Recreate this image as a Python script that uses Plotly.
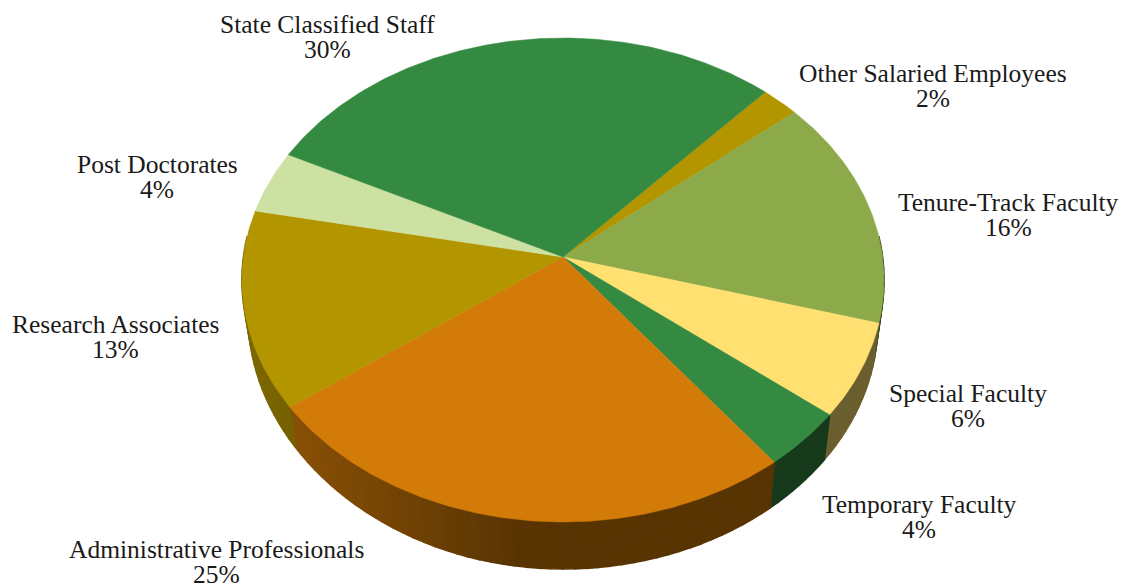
import numpy as np
import plotly.graph_objects as go

# Data: clockwise from the start angle, estimated shares in percent
categories = ["Other Salaried Employees", "Tenure-Track Faculty", "Special Faculty",
              "Temporary Faculty", "Administrative Professionals", "Research Associates",
              "Post Doctorates", "State Classified Staff"]
shares = [2.1, 15.4, 6.3, 3.9, 25.4, 13.2, 4.2, 29.5]
labels_pct = ["2%", "16%", "6%", "4%", "25%", "13%", "4%", "30%"]
colors = ["#B39500", "#8DAA4A", "#FFE070", "#348A41", "#D27B08", "#B39500", "#CDE2A2", "#348A41"]

# Label centres in page pixels
label_x = [933, 1008, 968, 919, 216, 115, 157, 327]
label_y = [86, 215, 406, 517, 562, 337, 177, 37]
LINE_GAP = 12.8

# Projection of the disc
START = 42.6
CX, CY, R, S, K = 563.0, 257.0, 319.6, 239.8, 0.095
W, H = 1126, 585


def project(deg):
    a = np.radians(deg)
    u, v = np.sin(a), -np.cos(a)
    d = 1 - K * v
    return R * u / d, S * v / d


def top_pts(deg):
    dx, dy = project(deg)
    return CX + dx, CY + dy


def bottom_pts(deg):
    dx, dy = project(deg)
    c = np.where(dx < 0, 7 / 274**2, 2 / 267**2)
    return CX + 0.98 * dx, CY + dy + 47 - c * dx**2


def shade(hex_color, x):
    f = float(np.clip(0.42 + (520 - x) / 270 * 0.28, 0.42, 0.72))
    r, g, b = (int(hex_color[i:i + 2], 16) for i in (1, 3, 5))
    return f"rgb({r * f:.0f},{g * f:.0f},{b * f:.0f})"


fig = go.Figure()
angles = START + np.concatenate([[0], np.cumsum(shares)]) * 360 / sum(shares)

# Side wall, in shaded strips along the visible front half
for i, col in enumerate(colors):
    a0, a1 = max(angles[i], 85.0), min(angles[i + 1], 275.0)
    if a1 <= a0:
        continue
    n = max(1, int(np.ceil((a1 - a0) / 2)))
    edges = np.linspace(a0, a1, n + 1)
    for e0, e1 in zip(edges[:-1], edges[1:]):
        t = np.linspace(e0, e1, 5)
        tx, ty = top_pts(t)
        bx, by = bottom_pts(t)
        xs = np.concatenate([tx, bx[::-1], tx[:1]])
        ys = np.concatenate([ty, by[::-1], ty[:1]])
        c = shade(col, float(np.mean(bx)))
        fig.add_trace(go.Scatter(x=xs, y=ys, mode="lines", fill="toself", fillcolor=c,
                                 line=dict(color=c, width=1.6), hoverinfo="skip", showlegend=False))

# Top face
for i, (name, col) in enumerate(zip(categories, colors)):
    t = np.linspace(angles[i], angles[i + 1], max(3, int((angles[i + 1] - angles[i]) * 1.5)))
    rx, ry = top_pts(t)
    fig.add_trace(go.Scatter(x=np.concatenate([[CX], rx, [CX]]), y=np.concatenate([[CY], ry, [CY]]),
                             mode="lines", fill="toself", fillcolor=col,
                             line=dict(color=col, width=0.5), name=name, hoverinfo="name",
                             showlegend=False))

font = dict(family="Liberation Serif", size=25.5, color="#1a1a1a")
for name, pct, x, y in zip(categories, labels_pct, label_x, label_y):
    fig.add_annotation(x=x, y=y - LINE_GAP, text=name, showarrow=False, xanchor="center",
                       yanchor="middle", font=font)
    fig.add_annotation(x=x, y=y + LINE_GAP, text=pct, showarrow=False, xanchor="center",
                       yanchor="middle", font=font)

fig.update_layout(width=W, height=H, margin=dict(l=0, r=0, t=0, b=0),
                  paper_bgcolor="white", plot_bgcolor="white", showlegend=False,
                  xaxis=dict(range=[0, W], visible=False, fixedrange=True),
                  yaxis=dict(range=[H, 0], visible=False, fixedrange=True))
fig.write_html("out.html", config={"displayModeBar": False},
               post_script="document.body.style.margin='0';document.body.style.overflow='hidden';")
